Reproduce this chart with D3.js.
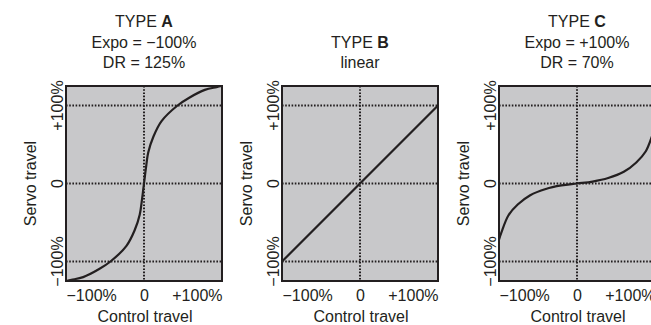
<!DOCTYPE html>
<html>
<head>
<meta charset="utf-8">
<script src="https://cdn.jsdelivr.net/npm/d3@7/dist/d3.min.js"></script>
<style>
  html, body { margin: 0; padding: 0; background: #fff; }
  svg { display: block; }
  text { font-family: "Liberation Sans", Arial, Helvetica, sans-serif; fill: #231f20; }
</style>
</head>
<body>
<svg id="chart" width="651" height="325"></svg>
<script>
// Panel identifiers and their caption lines
const panelTypes = ["A", "B", "C"];
const captionA = ["Expo = \u2212100%", "DR = 125%"];
const captionB = ["linear"];
const captionC = ["Expo = +100%", "DR = 70%"];

// Axis ticks (percent of travel) and their labels
const controlTicks = [-100, 0, 100];
const controlTickLabels = ["\u2212100%", "0", "+100%"];
const servoTicks = [-100, 0, 100];
const servoTickLabels = ["\u2212100%", "0", "+100%"];
const servoGrid = [-100, 0, 100];
const controlGrid = [0];

// Type A: negative expo, dual rate 125%
const controlA = [-100, -93, -78, -58, -43, -22.5, -12, -5.5, -2.5, -1, 0, 1, 2.5, 5.5, 12, 22.5, 43, 58, 78, 93, 100];
const servoA   = [-125, -123.5, -120, -110, -100, -80, -60, -40, -20, -8, 0, 8, 20, 40, 60, 80, 100, 110, 120, 123.5, 125];

// Type B: linear response
const controlB = [-100, 100];
const servoB   = [-100, 100];

// Type C: positive expo, dual rate 70%
const controlC = [-100, -97, -88, -76, -60, -40, -20, 0, 20, 40, 60, 76, 88, 97, 100];
const servoC   = [-72, -63, -41, -27, -15, -7, -2.5, 0, 2.5, 7, 15, 27, 41, 63, 72];

const panels = [
  { type: panelTypes[0], caption: captionA, xs: controlA, ys: servoA, left: 66 },
  { type: panelTypes[1], caption: captionB, xs: controlB, ys: servoB, left: 282 },
  { type: panelTypes[2], caption: captionC, xs: controlC, ys: servoC, left: 499 }
];

const svg = d3.select("#chart");
const boxW = 156, boxTop = 86, boxBottom = 281;
const ink = "#231f20";
const fontSize = 16;

panels.forEach((p, k) => {
  const x = d3.scaleLinear().domain([-100, 100]).range([p.left, p.left + boxW]);
  const y = d3.scaleLinear().domain([-125, 125]).range([boxBottom, boxTop]);
  const g = svg.append("g");
  const cx = x(0);
  const clipId = "clip" + k;

  svg.append("clipPath").attr("id", clipId).append("rect")
    .attr("x", x(-100)).attr("y", y(125))
    .attr("width", x(100) - x(-100)).attr("height", y(-125) - y(125));

  // caption block, bottom line sits at a fixed baseline
  const lines = [{ lead: "TYPE ", bold: p.type }].concat(p.caption.map(t => ({ lead: t })));
  const baseLast = 68, lineGap = 20.5;
  lines.forEach((ln, i) => {
    const t = g.append("text")
      .attr("x", cx)
      .attr("y", baseLast - (lines.length - 1 - i) * lineGap)
      .attr("text-anchor", "middle")
      .attr("font-size", fontSize);
    t.append("tspan").text(ln.lead);
    if (ln.bold) t.append("tspan").attr("font-weight", "bold").text(ln.bold);
  });

  // plot background
  g.append("rect")
    .attr("x", x(-100)).attr("y", y(125))
    .attr("width", x(100) - x(-100)).attr("height", y(-125) - y(125))
    .attr("fill", "#c8c8ca");

  // dotted reference lines
  g.selectAll(".hgrid").data(servoGrid).join("line")
    .attr("x1", x(-100)).attr("x2", x(100))
    .attr("y1", d => y(d)).attr("y2", d => y(d))
    .attr("stroke", ink).attr("stroke-width", 2).attr("stroke-dasharray", "1.6,1.6");
  g.selectAll(".vgrid").data(controlGrid).join("line")
    .attr("x1", d => x(d)).attr("x2", d => x(d))
    .attr("y1", y(125)).attr("y2", y(-125))
    .attr("stroke", ink).attr("stroke-width", 2).attr("stroke-dasharray", "1.6,1.6");

  // response curve
  const pts = p.xs.map((v, i) => [v, p.ys[i]]);
  const line = d3.line().x(d => x(d[0])).y(d => y(d[1])).curve(d3.curveCatmullRom.alpha(0.5));
  g.append("path")
    .attr("d", line(pts))
    .attr("clip-path", `url(#${clipId})`)
    .attr("fill", "none").attr("stroke", ink).attr("stroke-width", 2.2)
    .attr("stroke-linecap", "round");

  // frame
  g.append("rect")
    .attr("x", x(-100)).attr("y", y(125))
    .attr("width", x(100) - x(-100)).attr("height", y(-125) - y(125))
    .attr("fill", "none").attr("stroke", ink).attr("stroke-width", 2);

  // bottom axis (control travel)
  const xAxis = d3.axisBottom(x).tickValues(controlTicks).tickSize(0)
    .tickFormat((d, i) => controlTickLabels[i]);
  const xg = g.append("g").attr("transform", `translate(0,${boxBottom})`).call(xAxis);
  xg.select(".domain").remove();
  xg.selectAll("text")
    .attr("y", 20).attr("dy", null)
    .attr("font-size", fontSize).attr("font-family", null).attr("fill", ink)
    .attr("text-anchor", (d, i) => i === 0 ? "start" : (i === 2 ? "end" : "middle"));
  g.append("text")
    .attr("x", cx + 1).attr("y", 322)
    .attr("text-anchor", "middle").attr("font-size", fontSize)
    .text("Control travel");

  // left axis (servo travel), labels turned upright
  const yAxis = d3.axisLeft(y).tickValues(servoTicks).tickSize(0)
    .tickFormat((d, i) => servoTickLabels[i]);
  const yg = g.append("g").attr("transform", `translate(${p.left},0)`).call(yAxis);
  yg.select(".domain").remove();
  yg.selectAll(".tick").attr("transform", null);
  yg.selectAll("text")
    .attr("x", null).attr("dy", null).attr("y", null)
    .attr("font-size", fontSize).attr("font-family", null).attr("fill", ink)
    .attr("text-anchor", "middle")
    .attr("transform", d => `translate(-3,${y(d)}) rotate(-90)`);
  g.append("text")
    .attr("transform", `translate(${p.left - 30},${y(0)}) rotate(-90)`)
    .attr("text-anchor", "middle").attr("font-size", fontSize)
    .text("Servo travel");
});
</script>
</body>
</html>
